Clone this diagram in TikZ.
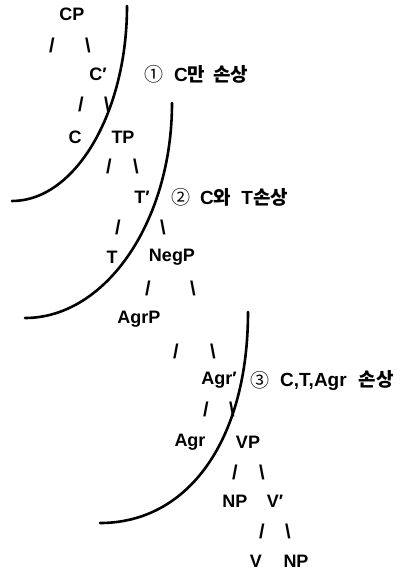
\documentclass[tikz,border=0pt]{standalone}
\usepackage{fontspec}
\setmainfont{Liberation Sans}
\newfontfamily\kr{Noto Sans CJK KR}
\begin{document}
\begin{tikzpicture}[x=1pt,y=-1pt,
  lab/.style={font=\fontsize{18}{20}\selectfont\bfseries, inner sep=0pt},
  sl/.style={font=\fontsize{20}{22}\selectfont\bfseries, inner sep=0pt},
  num/.style={font=\kr\fontsize{19}{21}\selectfont, inner sep=0pt},
  note/.style={font=\fontsize{19}{21}\selectfont\bfseries, inner sep=0pt, anchor=west},
  arcline/.style={line width=2.6pt, line cap=round}]
\useasboundingbox (0,0) rectangle (400,573);
% tree labels
\node[lab] (cp) at (72,14) {CP};
\node[sl] (s1a) at (52,45) {/};
\node[sl] (s1b) at (88,45) {\textbackslash};
\node[lab] (cbar) at (98,74) {C\char"2032};
\node[sl] (s2a) at (81,104) {/};
\node[sl] (s2b) at (107,104) {\textbackslash};
\node[lab] (c) at (75,137) {C};
\node[lab] (tp) at (123,137) {TP};
\node[sl] (s3a) at (109,166) {/};
\node[sl] (s3b) at (136,166) {\textbackslash};
\node[lab] (tbar) at (142,197) {T\char"2032};
\node[sl] (s4a) at (118,227) {/};
\node[sl] (s4b) at (163,227) {\textbackslash};
\node[lab] (t) at (112,257) {T};
\node[lab] (negp) at (172,257) {NegP};
\node[sl] (s5a) at (148,288) {/};
\node[sl] (s5b) at (193,288) {\textbackslash};
\node[lab] (agrp) at (139,319) {AgrP};
\node[sl] (s6a) at (176,351) {/};
\node[sl] (s6b) at (213,351) {\textbackslash};
\node[lab] (agrbar) at (219,380) {Agr\char"2032};
\node[sl] (s7a) at (206,409) {/};
\node[sl] (s7b) at (232,409) {\textbackslash};
\node[lab] (agr) at (190,442) {Agr};
\node[lab] (vp) at (248,442) {VP};
\node[sl] (s8a) at (235,472) {/};
\node[sl] (s8b) at (262,472) {\textbackslash};
\node[lab] (np1) at (235,501) {NP};
\node[lab] (vbar) at (275,501) {V\char"2032};
\node[sl] (s9a) at (262,531) {/};
\node[sl] (s9b) at (288,531) {\textbackslash};
\node[lab] (v) at (256,561) {V};
\node[lab] (np2) at (296,561) {NP};
% annotations
\node[num] (n1) at (154,74) {①};
\node[note] (t1) at (174,74) {C{\kr\fontsize{19}{21}\selectfont 만\hspace{8pt}손상}};
\node[num] (n2) at (181,197) {②};
\node[note] (t2) at (200,197) {C{\kr\fontsize{19}{21}\selectfont 와}\hspace{10pt}T{\kr\fontsize{19}{21}\selectfont 손상}};
\node[num] (n3) at (260,380) {③};
\node[note] (t3) at (280,380) {C,T,Agr\hspace{12pt}{\kr\fontsize{19}{21}\selectfont 손상}};
% boundary curves
\draw[arcline] (127,6) .. controls (127,113) and (75,201) .. (12,201);
\draw[arcline] (172,103) .. controls (172,221) and (106,318) .. (25,318);
\draw[arcline] (248,312) .. controls (248,439) and (189,523) .. (100,523);
\end{tikzpicture}
\end{document}
